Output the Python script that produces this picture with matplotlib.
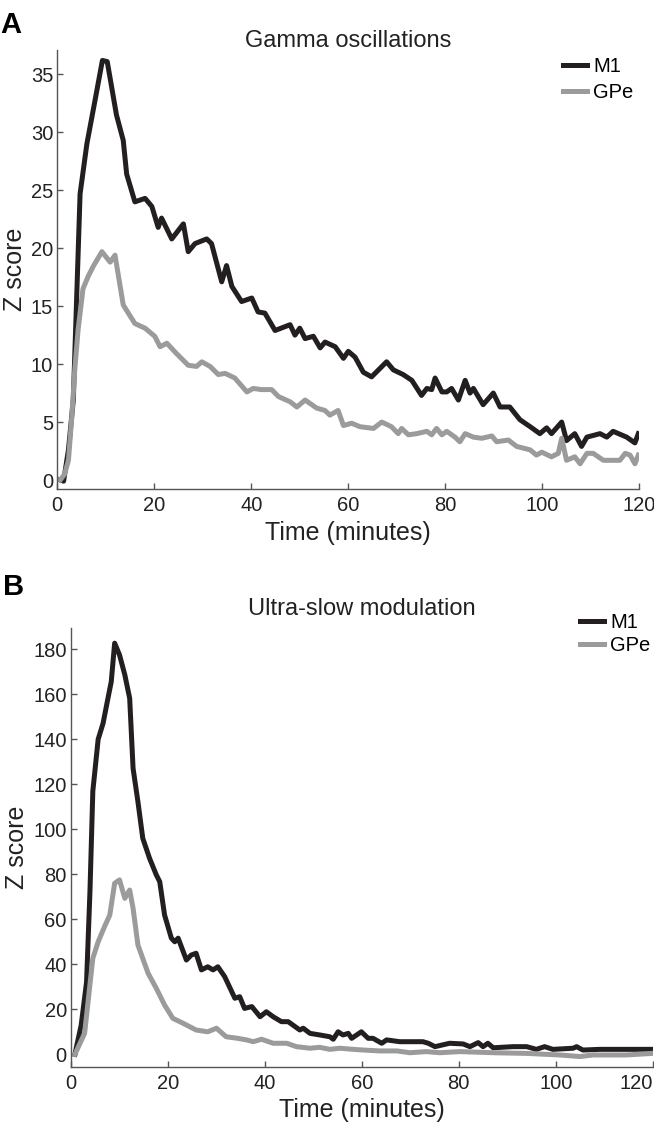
import matplotlib
matplotlib.use("Agg")
import matplotlib.pyplot as plt

plt.rcParams['font.family'] = ['Liberation Sans', 'DejaVu Sans']

# ---- panel A: gamma oscillations ----
gamma_m1_t = [0.6, 1.3, 2.3, 3.3, 4.7, 6.1, 7.8, 9.3, 10.3, 12.2, 13.6, 14.3, 16.0, 18.1, 19.5,
              20.8, 21.5, 23.6, 26.0, 27.0, 28.4, 30.8, 31.8, 33.9, 34.9, 36.0, 38.0, 40.1,
              41.4, 42.8, 44.9, 48.0, 49.0, 50.0, 51.1, 52.8, 54.2, 55.2, 57.3, 59.0, 60.0,
              61.4, 63.1, 64.8, 67.9, 69.3, 71.3, 73.1, 75.1, 76.2, 77.2, 77.9, 79.3, 80.3,
              81.3, 82.7, 84.1, 85.1, 85.8, 87.8, 89.9, 91.3, 93.3, 95.4, 97.5, 99.5, 100.9,
              101.9, 104.0, 105.0, 106.7, 108.1, 109.2, 111.9, 113.3, 114.6, 117.4, 119.1, 119.8]
gamma_m1 = [0.0, -0.1, 2.6, 6.9, 24.7, 29.0, 32.8, 36.2, 36.1, 31.5, 29.3, 26.4, 24.0, 24.3, 23.6,
            21.8, 22.6, 20.8, 22.1, 19.7, 20.4, 20.8, 20.4, 17.1, 18.5, 16.7, 15.4, 15.7,
            14.5, 14.4, 12.9, 13.4, 12.5, 13.1, 12.2, 12.4, 11.4, 11.9, 11.5, 10.5, 11.1,
            10.6, 9.3, 8.9, 10.2, 9.5, 9.1, 8.6, 7.3, 7.9, 7.8, 8.8, 7.6, 7.6,
            7.9, 6.9, 8.6, 7.5, 7.9, 6.5, 7.5, 6.3, 6.3, 5.2, 4.6, 4.0, 4.5,
            4.0, 5.0, 3.4, 4.0, 2.9, 3.7, 4.0, 3.7, 4.2, 3.7, 3.2, 4.0]

gamma_gpe_t = [0.6, 1.5, 2.3, 3.0, 3.6, 4.3, 5.3, 6.4, 7.5, 9.2, 10.9, 11.9, 13.6, 16.0, 18.1,
               20.1, 21.2, 22.6, 24.6, 27.0, 28.7, 29.8, 31.5, 33.2, 34.6, 36.6, 39.1, 40.4,
               42.1, 44.2, 45.6, 48.0, 49.4, 51.1, 53.5, 55.2, 56.2, 57.9, 59.0, 60.7, 62.4,
               65.2, 66.9, 68.9, 70.3, 71.0, 72.4, 74.1, 76.2, 77.2, 78.2, 79.3, 80.3, 82.0,
               83.0, 84.1, 85.8, 87.5, 89.6, 90.6, 93.0, 94.7, 97.5, 98.8, 99.9, 101.9, 103.3,
               104.0, 105.0, 106.7, 107.8, 109.2, 110.5, 112.6, 116.0, 117.1, 118.1, 119.1, 119.8]
gamma_gpe = [0.0, 0.5, 1.7, 5.5, 9.5, 13.0, 16.5, 17.6, 18.5, 19.7, 18.8, 19.4, 15.1, 13.5, 13.1,
             12.4, 11.5, 11.8, 10.9, 9.9, 9.8, 10.2, 9.8, 9.1, 9.2, 8.8, 7.6, 7.9,
             7.8, 7.8, 7.2, 6.75, 6.3, 6.9, 6.2, 6.0, 5.6, 6.0, 4.7, 4.9, 4.6,
             4.45, 5.0, 4.6, 4.0, 4.45, 3.9, 4.0, 4.2, 3.9, 4.45, 3.9, 4.2, 3.7,
             3.3, 4.0, 3.7, 3.6, 3.8, 3.3, 3.45, 2.9, 2.6, 2.15, 2.4, 2.0, 2.3,
             3.6, 1.7, 2.0, 1.4, 2.3, 2.3, 1.7, 1.7, 2.3, 2.15, 1.4, 2.15]

# ---- panel B: ultra-slow modulation ----
slow_m1_t = [0.8, 2.1, 3.2, 3.9, 4.5, 5.6, 6.6, 7.6, 8.3, 9.0, 10.0, 11.1, 12.1, 12.8, 13.8,
             14.8, 16.2, 17.6, 18.3, 19.3, 20.7, 21.4, 22.1, 23.8, 24.8, 25.8, 26.9, 28.2,
             29.3, 30.3, 31.7, 33.8, 34.8, 35.8, 37.3, 39.0, 40.3, 41.7, 43.4, 44.8, 47.2,
             47.9, 49.3, 51.3, 53.4, 54.1, 55.1, 56.1, 57.2, 57.9, 59.9, 61.3, 62.3, 64.1,
             65.1, 67.8, 72.6, 73.7, 75.1, 78.1, 80.9, 82.3, 84.0, 85.0, 86.0, 87.1, 91.2,
             94.0, 96.0, 97.7, 99.4, 103.6, 104.3, 105.6, 109.1, 111.8, 114.6, 119.9]
slow_m1 = [0, 13, 32, 72, 117, 140, 147, 158, 165.6, 182.7, 177.5, 168.6, 158.2, 127.1, 112.3,
           96, 87.1, 79.7, 76.7, 61.9, 51.6, 50, 51.6, 41.9, 44.1, 44.9, 37.5, 38.9,
           37.5, 38.9, 34.5, 24.9, 25.6, 20.4, 21.2, 16.7, 18.9, 16.7, 14.5, 14.5, 10.8,
           11.6, 9.3, 8.6, 7.8, 6.7, 10.0, 8.6, 9.3, 7.1, 10.0, 7.1, 7.1, 4.9,
           6.4, 5.6, 5.6, 4.9, 3.4, 4.9, 4.6, 3.4, 5.2, 3.4, 4.9, 2.9, 3.4,
           3.4, 2.2, 3.4, 2.2, 2.7, 3.4, 1.9, 2.2, 2.2, 2.2, 2.2]

slow_gpe_t = [0.8, 2.8, 4.5, 5.6, 6.9, 8.0, 9.0, 10.0, 11.1, 12.1, 12.8, 13.8, 15.9, 17.6, 19.3,
              21.0, 23.1, 25.8, 28.2, 30.0, 32.0, 34.4, 36.2, 37.6, 39.3, 41.7, 44.5, 46.5,
              49.3, 51.3, 53.4, 55.5, 58.2, 60.3, 63.7, 67.2, 69.9, 73.3, 76.1, 80.2, 87.1,
              94.0, 100.8, 105.0, 107.7, 114.6, 119.9]
slow_gpe = [0, 9.3, 42.7, 50, 56.7, 61.9, 76, 77.5, 69.3, 73, 64.9, 48.6, 36, 29.3, 21.9,
            16, 13.8, 10.8, 10.0, 11.6, 7.8, 7.1, 6.4, 5.6, 6.7, 4.9, 4.9, 3.4,
            2.7, 3.1, 2.2, 2.7, 2.2, 1.9, 1.5, 1.5, 0.7, 1.2, 0.7, 1.2, 0.7,
            0.4, -0.3, -1, -0.3, -0.3, 0.4]

black = '#231f20'
grey = '#9b9b9b'
spine_col = '#555555'

fig = plt.figure(figsize=(6.54, 11.24), dpi=100)
axA = fig.add_axes([0.0876, 0.5647, 0.8899, 0.3908])
axB = fig.add_axes([0.1086, 0.0510, 0.8894, 0.3900])


def style(ax, yticks, ylim):
    ax.set_xlim(0, 120)
    ax.set_ylim(*ylim)
    ax.set_xticks(range(0, 121, 20))
    ax.set_yticks(yticks)
    for s in ['top', 'right']:
        ax.spines[s].set_visible(False)
    for s in ['left', 'bottom']:
        ax.spines[s].set_color(spine_col)
        ax.spines[s].set_linewidth(1.0)
    ax.tick_params(direction='in', length=4, width=1.0, color=spine_col,
                   labelsize=14.5, labelcolor='#222222')
    ax.tick_params(axis='x', pad=5)
    ax.tick_params(axis='y', pad=3)
    ax.set_xlabel('Time (minutes)', fontsize=18, color='#222222', labelpad=4)
    ax.set_ylabel('Z score', fontsize=18, color='#222222', labelpad=3)


axA.plot(gamma_m1_t, gamma_m1, color=black, lw=3.6, label='M1', solid_joinstyle='round')
axA.plot(gamma_gpe_t, gamma_gpe, color=grey, lw=3.6, label='GPe', solid_joinstyle='round')
style(axA, range(0, 36, 5), (-0.8, 37.1))
axA.text(0.5, 1.0075, 'Gamma oscillations', transform=axA.transAxes, ha='center',
         va='baseline', fontsize=17, color='#222222')
axA.legend(loc='upper left', bbox_to_anchor=(0.861, 0.949), bbox_transform=fig.transFigure,
           frameon=False, fontsize=14.5, handlelength=1.2, handletextpad=0.3,
           borderpad=0, borderaxespad=0, labelspacing=0.35)

axB.plot(slow_m1_t, slow_m1, color=black, lw=3.6, label='M1', solid_joinstyle='round')
axB.plot(slow_gpe_t, slow_gpe, color=grey, lw=3.6, label='GPe', solid_joinstyle='round')
style(axB, range(0, 181, 20), (-5.5, 189.3))
axB.text(0.5, 1.030, 'Ultra-slow modulation', transform=axB.transAxes, ha='center',
         va='baseline', fontsize=17, color='#222222')
axB.legend(loc='upper left', bbox_to_anchor=(0.887, 0.4546), bbox_transform=fig.transFigure,
           frameon=False, fontsize=14.5, handlelength=1.2, handletextpad=0.3,
           borderpad=0, borderaxespad=0, labelspacing=0.2)
# the last tick label sits at the right edge of the figure
axB.get_xticklabels()[-1].set_horizontalalignment('right')

fig.text(0.0, 1 - 33 / 1124, 'A', fontsize=21, fontweight='bold', va='baseline')
fig.text(0.004, 1 - 595 / 1124, 'B', fontsize=21, fontweight='bold', va='baseline')

fig.savefig('out.png', dpi=100)
